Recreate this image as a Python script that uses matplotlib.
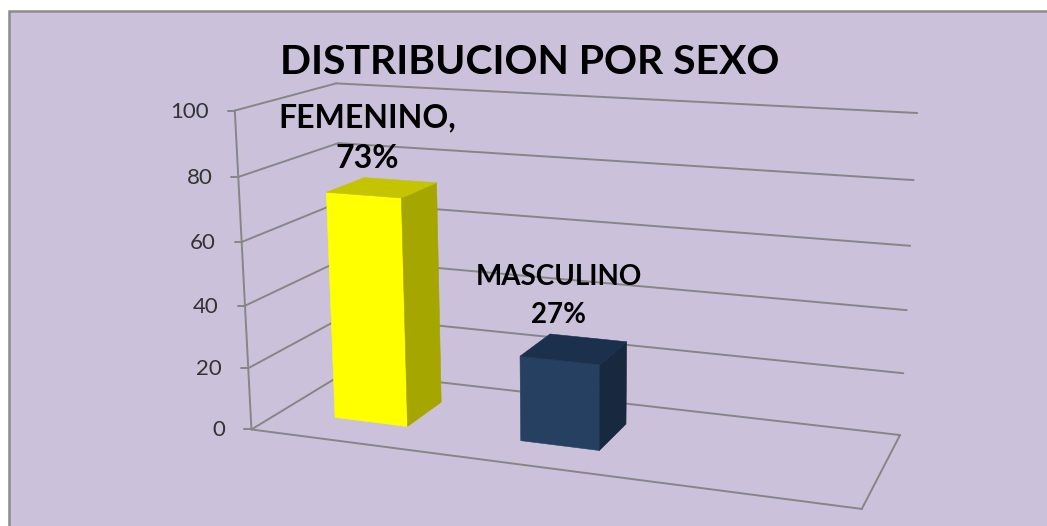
import numpy as np
import matplotlib
matplotlib.use("Agg")
import matplotlib.pyplot as plt
from matplotlib.patches import Polygon, Rectangle

# datos
titulo = "DISTRIBUCION POR SEXO"
categorias = ["FEMENINO,", "MASCULINO"]
valores = [73, 27]
etiquetas = ["73%", "27%"]
niveles = [0, 20, 40, 60, 80, 100]

# colores de cada barra: frente, arriba, lado
col_frente = ["#FFFF00", "#254061"]
col_arriba = ["#C4C400", "#1B304C"]
col_lado = ["#A6A600", "#17293F"]
col_fondo = "#CCC1DA"
col_linea = "#868686"

n_slots = 3  # el grafico deja sitio para tres categorias
ancho = (1 / n_slots) / 2.5
z0, z1 = 0.3, 0.7

# Esquinas de la caja 3D (x, valor, z) y su lugar en pixeles de la imagen
mundo = np.array([[0, 0, 0], [1, 0, 0], [0, 0, 1], [1, 0, 1], [0, 100, 1], [1, 100, 1], [0, 100, 0]], float)
pix = np.array([[252, 429], [862, 509], [346, 372], [900, 435], [337, 83], [917, 113], [234, 111]], float)

A = []
b = []
for (x, y, z), (u, v) in zip(mundo, pix):
    A.append([x, y, z, 1, 0, 0, 0, 0, -u * x, -u * y, -u * z])
    b.append(u)
    A.append([0, 0, 0, 0, x, y, z, 1, -v * x, -v * y, -v * z])
    b.append(v)
h = np.linalg.lstsq(np.array(A), np.array(b), rcond=None)[0]
P = np.append(h, 1).reshape(3, 4)


def proy(x, y, z):
    q = P @ np.array([x, y, z, 1.0])
    return q[:2] / q[2]


plt.rcParams['font.family'] = ['Lato', 'DejaVu Sans']

fig = plt.figure(figsize=(10.47, 5.26), dpi=100, facecolor="white")
ax = fig.add_axes([0, 0, 1, 1])
ax.set_xlim(0, 1047)
ax.set_ylim(526, 0)
ax.axis("off")

# fondo y marco
ax.add_patch(Rectangle((9, 11), 1045, 525, facecolor=col_fondo, edgecolor="#8C8C8C", lw=1.8, zorder=0))


def linea(p, q, lw=1.4):
    ax.plot([p[0], q[0]], [p[1], q[1]], color=col_linea, lw=lw, solid_capstyle="round", zorder=1)


# rejilla en pared izquierda y pared del fondo
for nv in niveles:
    linea(proy(0, nv, 0), proy(0, nv, 1))
    linea(proy(0, nv, 1), proy(1, nv, 1))
    # marca del eje y numero
    p = proy(0, nv, 0)
    linea((p[0] - 7, p[1]), p)
    ax.text(p[0] - 26, p[1] + 1, str(nv), ha="right", va="center", fontsize=16, color="#333333")

# eje vertical y suelo
linea(proy(0, 0, 0), proy(0, 100, 0))
linea(proy(0, 0, 0), proy(1, 0, 0))
linea(proy(1, 0, 0), proy(1, 0, 1))

# barras
for i, val in enumerate(valores):
    cx = (i + 0.5) / n_slots
    x0, x1 = cx - ancho / 2, cx + ancho / 2
    frente = [proy(x0, 0, z0), proy(x1, 0, z0), proy(x1, val, z0), proy(x0, val, z0)]
    lado = [proy(x1, 0, z0), proy(x1, 0, z1), proy(x1, val, z1), proy(x1, val, z0)]
    arriba = [proy(x0, val, z0), proy(x1, val, z0), proy(x1, val, z1), proy(x0, val, z1)]
    ax.add_patch(Polygon(frente, closed=True, facecolor=col_frente[i], edgecolor=col_frente[i], lw=0.4, zorder=3))
    ax.add_patch(Polygon(lado, closed=True, facecolor=col_lado[i], edgecolor=col_lado[i], lw=0.4, zorder=3))
    ax.add_patch(Polygon(arriba, closed=True, facecolor=col_arriba[i], edgecolor=col_arriba[i], lw=0.4, zorder=3))

# etiquetas de datos
ax.text(367, 118, categorias[0], ha="center", va="center", fontsize=23, fontweight="bold", color="black", zorder=5)
ax.text(367, 159, etiquetas[0], ha="center", va="center", fontsize=23, fontweight="bold", color="black", zorder=5)
ax.text(559, 277, categorias[1], ha="center", va="center", fontsize=20, fontweight="bold", color="black", zorder=5)
ax.text(559, 315, etiquetas[1], ha="center", va="center", fontsize=20, fontweight="bold", color="black", zorder=5)

ax.text(530, 63, titulo, ha="center", va="center", fontsize=29.4, fontweight="bold", color="black", zorder=5)

fig.savefig("out.png", dpi=100)
